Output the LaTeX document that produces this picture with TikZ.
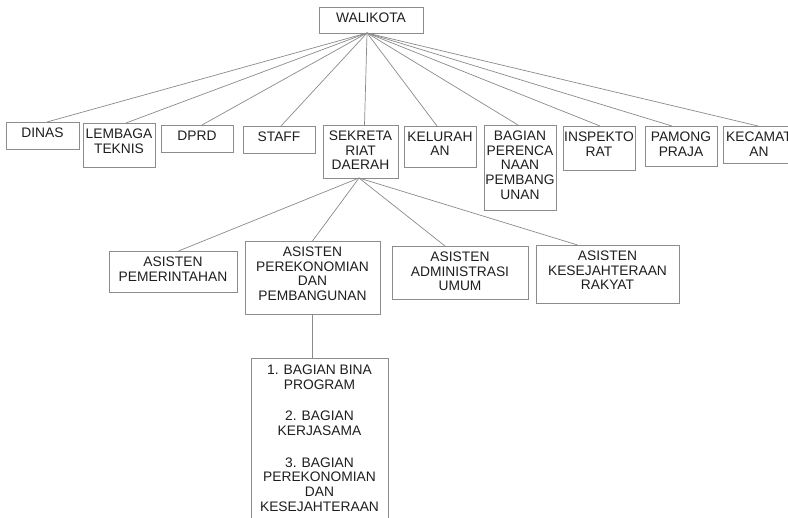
\documentclass[tikz,border=0pt]{standalone}
\usepackage{fontspec}
\setmainfont{Liberation Sans}
\definecolor{boxline}{HTML}{8C8C8C}
\definecolor{linkline}{HTML}{8A8A8A}
\definecolor{inktext}{HTML}{1E1E1E}
\tikzset{
  orgbox/.style={draw=boxline, line width=0.9pt, anchor=north west, inner sep=0pt, outer sep=0pt},
  orglabel/.style={anchor=north, align=center, inner sep=0pt, yshift=-5.5pt,
    text=inktext, font=\fontsize{13.8}{14.8}\selectfont},
  link/.style={draw=linkline, line width=0.7pt}
}
% \orgbox{name}{x}{y}{width}{height}{text}
\newcommand{\orgbox}[6]{%
  \node[orgbox, minimum width=#4pt, minimum height=#5pt,
        label={[orglabel]north:{#6}}] (#1) at (#2,#3) {};}
\begin{document}
\begin{tikzpicture}[x=1pt, y=-1pt]
\useasboundingbox (0,0) rectangle (788,518);
\clip (0,0) rectangle (788,518);

% top level
\orgbox{wali}{319}{7}{104}{26}{WALIKOTA}

% units under the mayor
\orgbox{dinas}{6}{122}{73}{27}{DINAS}
\orgbox{lembaga}{83}{123}{72}{44}{LEMBAGA\\TEKNIS}
\orgbox{dprd}{161}{125}{72}{27}{DPRD}
\orgbox{staff}{243}{126}{72}{27}{STAFF}
\orgbox{sek}{323}{125}{75}{53}{SEKRETA\\RIAT\\DAERAH}
\orgbox{kel}{404}{126}{72}{41}{KELURAH\\AN}
\orgbox{bag}{484}{125}{72}{85}{BAGIAN\\PERENCA\\NAAN\\PEMBANG\\UNAN}
\orgbox{insp}{563}{126}{72}{44}{INSPEKTO\\RAT}
\orgbox{pam}{645}{126}{72}{40}{PAMONG\\PRAJA}
\orgbox{kec}{723}{126}{72}{37}{KECAMAT\\AN}

% assistants of the regional secretariat
\orgbox{aspem}{109}{251}{128}{41}{ASISTEN\\PEMERINTAHAN}
\orgbox{aspek}{245}{241}{135}{73}{ASISTEN\\PEREKONOMIAN\\DAN\\PEMBANGUNAN}
\orgbox{asadm}{392}{246}{136}{53}{ASISTEN\\ADMINISTRASI\\UMUM}
\orgbox{askes}{536}{245}{143}{58}{ASISTEN\\KESEJAHTERAAN\\RAKYAT}

% sections under the economy assistant
\node[orgbox, minimum width=137pt, minimum height=200pt,
  label={[orglabel, yshift=-1.5pt]north:{1. BAGIAN BINA\\PROGRAM\\[16.5pt]2. BAGIAN\\KERJASAMA\\[16.5pt]3. BAGIAN\\PEREKONOMIAN\\DAN\\KESEJAHTERAAN}}]
  (bina) at (251,358) {};

% connectors
\coordinate (wbot) at ([xshift=-4pt]wali.south);
\draw[link] (wbot) -- ([xshift=4.5pt]dinas.north);
\draw[link] (wbot) -- ([xshift=7pt]lembaga.north);
\draw[link] (wbot) -- ([xshift=5pt]dprd.north);
\draw[link] (wbot) -- ([xshift=2pt]staff.north);
\draw[link] (wbot) -- ([xshift=4pt]sek.north);
\draw[link] (wbot) -- ([xshift=-3pt]kel.north);
\draw[link] (wbot) -- ([xshift=-2pt]bag.north);
\draw[link] (wbot) -- ([xshift=1pt]insp.north);
\draw[link] (wbot) -- ([xshift=-9pt]pam.north);
\draw[link] (wbot) -- ([xshift=-1pt]kec.north);

\coordinate (sbot) at ([xshift=-1.5pt]sek.south);
\draw[link] (sbot) -- ([xshift=5.5pt]aspem.north);
\draw[link] (sbot) -- (aspek.north);
\draw[link] (sbot) -- ([xshift=-15pt]asadm.north);
\draw[link] (sbot) -- ([xshift=-30pt]askes.north);

\draw[link] (aspek.south) -- (aspek.south |- bina.north);
\end{tikzpicture}
\end{document}
